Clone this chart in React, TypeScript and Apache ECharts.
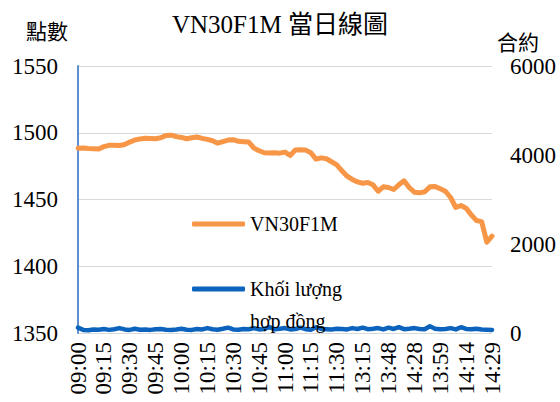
import React, { useEffect, useRef } from "react";
import * as echarts from "echarts";

const tickLabels = [
  "09:00", "09:15", "09:30", "09:45", "10:00", "10:15", "10:30", "10:45",
  "11:00", "11:15", "11:30", "13:15", "13:48", "14:28", "13:59", "14:14", "14:29",
];

const priceValues = [
  1488.4, 1488.5, 1488.2, 1488.0, 1487.8, 1489.6, 1490.6, 1490.6, 1490.4, 1491.2,
  1493.0, 1494.6, 1495.4, 1495.8, 1495.7, 1495.5, 1496.2, 1498.0, 1498.2, 1497.1,
  1496.5, 1495.5, 1496.3, 1496.8, 1495.8, 1495.0, 1494.0, 1492.2, 1493.4, 1494.5,
  1494.8, 1493.6, 1493.3, 1493.0, 1488.5, 1486.5, 1485.0, 1484.8, 1485.0, 1484.7,
  1485.5, 1483.0, 1487.0, 1487.3, 1487.0, 1485.0, 1480.2, 1481.2, 1480.5, 1478.3,
  1476.0, 1471.5, 1467.5, 1465.0, 1463.2, 1462.2, 1462.8, 1461.0, 1456.2, 1459.5,
  1459.0, 1457.5, 1461.0, 1464.0, 1459.0, 1455.5, 1455.0, 1455.8, 1459.5, 1459.8,
  1458.0, 1456.2, 1451.5, 1444.0, 1445.5, 1443.5, 1438.5, 1434.3, 1433.4, 1418.0,
  1422.5,
];

const volumeValues = [
  120, 70, 60, 80, 75, 90, 70, 85, 110, 80,
  70, 95, 75, 80, 70, 85, 90, 75, 70, 80,
  95, 75, 70, 90, 80, 110, 85, 75, 95, 120,
  80, 75, 90, 85, 110, 80, 90, 130, 85, 95,
  110, 80, 90, 120, 85, 75, 130, 90, 85, 80,
  95, 90, 80, 110, 90, 120, 85, 95, 110, 80,
  120, 90, 130, 85, 95, 110, 90, 85, 150, 95,
  85, 90, 110, 80, 130, 90, 85, 95, 80, 75,
  70,
];

const POINTS_PER_TICK = 5;

const categories = priceValues.map((_, i) => {
  const base = tickLabels[Math.floor(i / POINTS_PER_TICK)] || tickLabels[tickLabels.length - 1];
  return i % POINTS_PER_TICK === 0 ? base : base + "#" + (i % POINTS_PER_TICK);
});

const FONT = '"Liberation Serif", "Noto Sans CJK TC", serif';
const VOL_NAME = "Khối lượng hợp đồng";

export default function App() {
  const ref = useRef<HTMLDivElement>(null);

  useEffect(() => {
    document.body.style.margin = "0";
    const chart = echarts.init(ref.current!, undefined, { renderer: "svg" });
    chart.setOption({
      animation: false,
      backgroundColor: "#ffffff",
      title: {
        text: "VN30F1M 當日線圖",
        left: "center",
        top: 7,
        textStyle: { fontFamily: FONT, fontSize: 25, fontWeight: "normal", color: "#000" },
      },
      graphic: [
        {
          type: "text",
          x: 47,
          y: 32,
          style: { text: "點數", fontFamily: FONT, fontSize: 21, fill: "#000", align: "center", verticalAlign: "middle" },
        },
        {
          type: "text",
          x: 518,
          y: 43,
          style: { text: "合約", fontFamily: FONT, fontSize: 21, fill: "#000", align: "center", verticalAlign: "middle" },
        },
      ],
      legend: [
        {
          data: ["VN30F1M"],
          orient: "vertical",
          left: 192,
          top: 214,
          padding: 0,
          itemWidth: 53,
          itemHeight: 5,
          icon: "roundRect",
          selectedMode: false,
          textStyle: { fontFamily: FONT, fontSize: 20, color: "#000" },
        },
        {
          data: [VOL_NAME],
          orient: "vertical",
          left: 192,
          top: 241,
          padding: 0,
          itemWidth: 53,
          itemHeight: 5,
          icon: "roundRect",
          selectedMode: false,
          formatter: () => "\nKhối lượng\nhợp đồng",
          textStyle: { fontFamily: FONT, fontSize: 20, color: "#000", lineHeight: 32 },
        },
      ],
      grid: { left: 78, right: 68, top: 66, bottom: 69 },
      xAxis: {
        type: "category",
        data: categories,
        boundaryGap: false,
        axisLine: { show: false },
        axisTick: { show: false },
        axisLabel: {
          interval: POINTS_PER_TICK - 1,
          rotate: 90,
          margin: 9,
          fontFamily: FONT,
          fontSize: 23,
          color: "#000",
        },
        splitLine: { show: false },
      },
      yAxis: [
        {
          type: "value",
          min: 1350,
          max: 1550,
          interval: 50,
          axisLine: { show: true, lineStyle: { color: "#5B8FD0", width: 2 } },
          axisTick: { show: false },
          axisLabel: { margin: 20, fontFamily: FONT, fontSize: 23, color: "#000", formatter: (v: number) => String(v) },
          splitLine: { show: true, lineStyle: { color: "#D9D9D9", width: 1 } },
        },
        {
          type: "value",
          min: 0,
          max: 6000,
          interval: 2000,
          axisLine: { show: false },
          axisTick: { show: false },
          axisLabel: { margin: 18, fontFamily: FONT, fontSize: 23, color: "#000", formatter: (v: number) => String(v) },
          splitLine: { show: false },
        },
      ],
      series: [
        {
          name: "VN30F1M",
          type: "line",
          yAxisIndex: 0,
          data: priceValues,
          symbol: "none",
          showSymbol: false,
          color: "#F79646",
          lineStyle: { width: 5, color: "#F79646", cap: "round", join: "round" },
          z: 3,
        },
        {
          name: VOL_NAME,
          type: "line",
          yAxisIndex: 1,
          data: volumeValues,
          symbol: "none",
          showSymbol: false,
          color: "#0B63BD",
          lineStyle: { width: 4.5, color: "#0B63BD", cap: "round", join: "round" },
          z: 2,
        },
      ],
    });
    return () => chart.dispose();
  }, []);

  return <div ref={ref} style={{ width: 560, height: 402 }} />;
}
